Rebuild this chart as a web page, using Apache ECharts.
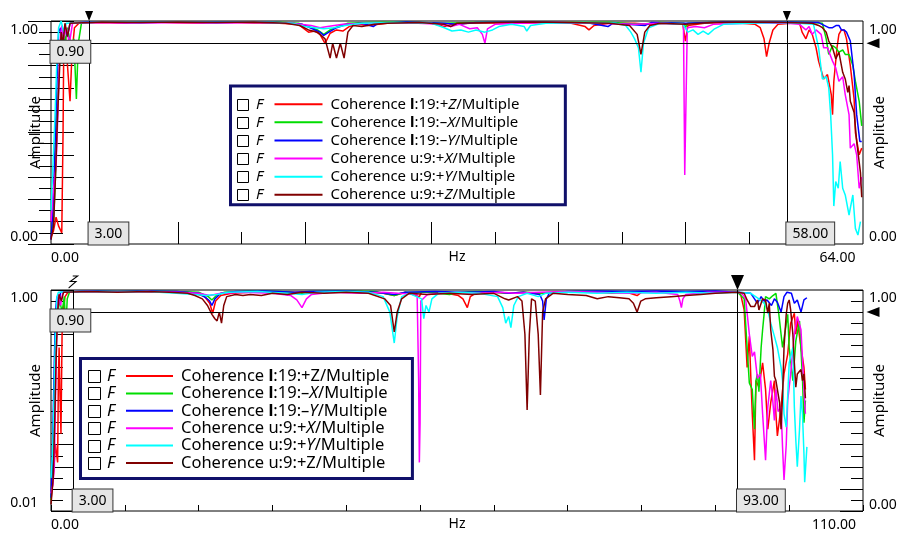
<!DOCTYPE html>
<html>
<head>
<meta charset="utf-8">
<script src="https://cdn.jsdelivr.net/npm/echarts@6/dist/echarts.min.js"></script>
</head>
<body style="margin: 0">
<div id="main" style="width: 898px; height: 535px"></div>
<script>
var names = [
    'Coherence l:19:+Z/Multiple',
    'Coherence l:19:\u2013X/Multiple',
    'Coherence l:19:\u2013Y/Multiple',
    'Coherence u:9:+X/Multiple',
    'Coherence u:9:+Y/Multiple',
    'Coherence u:9:+Z/Multiple'
];
var colors = ['#ff0000', '#00dd00', '#0000ff', '#ff00ff', '#00ffff', '#800000'];

// which axis letter is set in italics, per legend
var topItalic = [true, true, true, true, true, true];
var botItalic = [false, true, true, true, true, false];

var topRange = [0, 64];
var botRange = [0, 110];
var topCursors = [3, 58];
var botCursors = [3, 93];
var threshold = 0.9;

// ---- upper plot, [Hz, amplitude] ----
var topRed = [[0,0.03],[0.2,0.06],[0.4,0.12],[0.6,0.08],[0.85,0.05],[0.95,0.5],[1.0,0.85],[1.15,0.93],[1.3,0.8],[1.5,0.64],[1.65,0.85],[1.85,0.97],[2.2,0.99],
    [4,0.993],[6,0.99],[8,0.995],[10,0.992],[12,0.99],[14,0.994],[16,0.991],[18,0.99],[19.5,0.985],[20.3,0.95],[20.8,0.955],[21.2,0.94],[21.6,0.90],[22.0,0.945],[22.5,0.96],[23.0,0.955],[23.5,0.975],[24.2,0.985],[25,0.98],[26.5,0.99],[28,0.993],[30,0.99],[31,0.975],[31.6,0.985],[33,0.99],[35,0.992],[37,0.99],[39,0.993],[41,0.99],[42.1,0.975],[42.4,0.96],[42.8,0.98],[44,0.99],[46,0.99],[47,0.985],[48.5,0.99],[49.8,0.985],[50.0,0.91],[50.2,0.98],[51.5,0.99],[53,0.993],[54.5,0.99],[55.5,0.985],[55.9,0.97],[56.2,0.92],[56.4,0.84],[56.6,0.9],[56.9,0.96],[57.3,0.985],[58.3,0.99],
    [59.0,0.99],[59.2,0.95],[59.5,0.92],[59.75,0.96],[60.0,0.94],[60.3,0.88],[60.5,0.82],[60.9,0.74],[61.2,0.76],[61.5,0.67],[61.6,0.58],[61.7,0.73],[61.95,0.88],[62.1,0.94],[62.3,0.96],[62.5,0.96],[62.7,0.92],[63.0,0.80],[63.3,0.65],[63.4,0.50],[63.7,0.40],[63.9,0.43]];
var topGreen = [[0,0.05],[0.2,0.1],[0.35,0.3],[0.5,0.6],[0.7,0.85],[0.9,0.96],[1.1,0.9],[1.3,0.97],[1.6,0.88],[1.8,0.92],[2.0,0.65],[2.15,0.9],[2.4,0.99],
    [4,0.995],[6,0.993],[8,0.995],[10,0.994],[12,0.993],[14,0.995],[16,0.993],[18,0.994],[19.5,0.99],[20.3,0.975],[21.0,0.96],[21.5,0.94],[22.0,0.96],[22.6,0.975],[23.4,0.99],[25,0.993],[28,0.995],[31,0.99],[33,0.993],[36,0.995],[40,0.993],[44,0.994],[46.4,0.985],[48,0.993],[49.9,0.99],[50.0,0.97],[50.2,0.99],[53,0.995],[56,0.993],[58,0.995],[60,0.993],[60.8,0.99],
    [61.1,0.92],[61.3,0.85],[61.6,0.89],[61.85,0.88],[62.1,0.86],[62.4,0.87],[62.6,0.85],[62.9,0.85],[63.2,0.80],[63.4,0.73],[63.7,0.64],[63.9,0.53]];
var topBlue = [[0,0.02],[0.15,0.15],[0.3,0.4],[0.45,0.7],[0.6,0.95],[0.75,0.97],[0.9,0.85],[1.05,0.97],[1.3,0.93],[1.5,0.99],
    [3,0.995],[6,0.993],[9,0.995],[12,0.994],[15,0.995],[18,0.993],[19.8,0.985],[20.6,0.965],[21.2,0.95],[21.5,0.935],[21.9,0.95],[22.5,0.97],[23.3,0.985],[24.5,0.99],[25.4,0.975],[25.8,0.99],[28,0.995],[31,0.99],[32,0.985],[33.5,0.993],[37,0.995],[40,0.993],[42.5,0.99],[43.9,0.975],[44.3,0.99],[46.8,0.98],[47.3,0.993],[50,0.99],[53,0.995],[56,0.994],[58,0.995],[60.5,0.993],
    [61.3,0.97],[61.6,0.97],[61.9,0.98],[62.1,0.98],[62.3,0.96],[62.5,0.96],[62.7,0.95],[63.0,0.91],[63.3,0.76],[63.5,0.58],[63.75,0.46],[63.9,0.46]];
var topMagenta = [[0,0.1],[0.2,0.25],[0.4,0.35],[0.55,0.6],[0.7,0.9],[0.85,0.98],[1.0,0.92],[1.2,0.97],[1.45,0.9],[1.7,0.99],
    [4,0.993],[7,0.99],[10,0.993],[13,0.99],[16,0.993],[19,0.99],[20.5,0.98],[21.2,0.97],[21.8,0.975],[23,0.985],[25,0.99],[28,0.992],[30.8,0.985],[31.5,0.975],[32.2,0.985],[33.0,0.965],[33.6,0.97],[34.0,0.94],[34.2,0.90],[34.4,0.965],[35,0.985],[37,0.99],[40,0.993],[43,0.99],[46,0.985],[48,0.99],[49.85,0.985],[49.95,0.31],[50.05,0.31],[50.15,0.97],[50.8,0.975],[51.5,0.97],[52.2,0.985],[55,0.99],[58,0.99],[59.0,0.985],
    [59.2,0.975],[59.5,0.96],[59.75,0.975],[60.0,0.94],[60.3,0.96],[60.7,0.94],[60.9,0.88],[61.2,0.88],[61.6,0.82],[61.85,0.79],[62.1,0.73],[62.4,0.75],[62.6,0.67],[62.9,0.58],[63.0,0.43],[63.3,0.45],[63.5,0.40],[63.7,0.25],[63.9,0.30]];
var topCyan = [[0,0.15],[0.15,0.35],[0.3,0.55],[0.45,0.8],[0.6,0.97],[0.8,1.0],[1.0,0.95],[1.2,0.99],
    [4,0.995],[7,0.993],[10,0.995],[13,0.993],[16,0.995],[19,0.99],[20.0,0.975],[20.8,0.97],[21.5,0.965],[22.3,0.97],[23.2,0.98],[24.5,0.99],[27,0.993],[30,0.99],[31,0.97],[31.6,0.955],[32.3,0.96],[32.9,0.95],[33.5,0.96],[34.2,0.95],[34.8,0.96],[35.3,0.975],[36.3,0.985],[37.3,0.975],[37.5,0.955],[37.8,0.98],[39,0.99],[42,0.993],[44.5,0.99],[45.3,0.98],[45.7,0.95],[46.0,0.92],[46.3,0.88],[46.5,0.77],[46.7,0.9],[47.1,0.97],[48,0.99],[49.8,0.985],[50.2,0.95],[50.6,0.96],[51.0,0.94],[51.4,0.955],[51.8,0.94],[52.3,0.965],[53,0.985],[55,0.99],[58,0.993],[60.1,0.985],
    [60.5,0.88],[60.8,0.74],[61.1,0.75],[61.3,0.70],[61.45,0.58],[61.6,0.40],[61.7,0.17],[61.85,0.28],[62.05,0.25],[62.2,0.37],[62.4,0.25],[62.6,0.22],[62.9,0.13],[63.2,0.22],[63.4,0.07],[63.6,0.04],[63.8,0.10]];
var topDarkRed = [[0,0.02],[0.2,0.08],[0.35,0.3],[0.5,0.55],[0.65,0.75],[0.8,0.95],[0.95,0.9],[1.1,0.99],[1.3,0.93],[1.5,0.99],
    [4,0.995],[7,0.993],[10,0.995],[13,0.993],[16,0.995],[18.5,0.99],[19.6,0.98],[20.3,0.96],[21.0,0.95],[21.6,0.92],[22.0,0.834],[22.2,0.90],[22.5,0.834],[22.8,0.90],[23.1,0.834],[23.4,0.95],[23.8,0.98],[24.5,0.975],[25.5,0.985],[26.5,0.99],[29,0.993],[31,0.985],[31.5,0.975],[32,0.99],[35,0.993],[38,0.995],[41,0.993],[44,0.99],[45.6,0.98],[46.2,0.94],[46.5,0.85],[46.8,0.95],[47.2,0.98],[48,0.99],[50,0.985],[52,0.993],[55,0.995],[58,0.993],[60,0.99],
    [60.5,0.98],[60.8,0.97],[61.1,0.95],[61.3,0.91],[61.6,0.88],[61.85,0.83],[62.1,0.86],[62.4,0.77],[62.6,0.74],[62.8,0.68],[62.9,0.71],[63.0,0.64],[63.3,0.59],[63.5,0.46],[63.8,0.32],[63.9,0.21]];

// ---- lower plot, [Hz, amplitude] ----
var botRed = [[0,0.05],[0.3,0.15],[0.6,0.3],[0.9,0.22],[1.0,0.6],[1.1,0.74],[1.2,0.55],[1.35,0.35],[1.5,0.8],[1.7,0.92],[1.9,0.97],[2.3,0.99],
    [5,0.993],[8,0.99],[11,0.993],[14,0.99],[17,0.993],[19.5,0.985],[20.8,0.97],[21.5,0.94],[21.9,0.895],[22.3,0.95],[23,0.975],[24.5,0.985],[27,0.99],[30,0.993],[33,0.99],[36,0.993],[39,0.99],[42,0.993],[45,0.985],[46.5,0.975],[48,0.99],[49.9,0.97],[50.2,0.99],[53,0.99],[54.5,0.98],[55.2,0.975],[55.8,0.96],[56.4,0.92],[56.8,0.97],[57.5,0.985],[60,0.99],[62,0.985],[64,0.99],[66,0.985],[68,0.99],[71,0.993],[74,0.99],[76,0.985],[78,0.99],[79.4,0.975],[80,0.99],[83,0.993],[86,0.99],[89,0.993],[93,0.99],
    [93.4,0.985],[93.9,0.91],[94.3,0.65],[94.6,0.79],[94.8,0.61],[95.0,0.44],[95.3,0.23],[95.5,0.59],[95.9,0.56],[96.4,0.67],[96.8,0.55],[97.1,0.37],[97.5,0.49],[98.0,0.59],[98.2,0.44],[98.4,0.34],[98.9,0.47],[99.3,0.62],[99.8,0.71],[100.2,0.85],[100.7,0.895],[100.9,0.80],[101.1,0.864],[101.6,0.74],[102.0,0.65],[102.2,0.55]];
var botGreen = [[0,0.05],[0.3,0.3],[0.6,0.7],[0.9,0.9],[1.2,0.95],[1.5,0.9],[1.8,0.97],[2.0,0.82],[2.2,0.96],[2.5,0.99],
    [5,0.995],[9,0.993],[13,0.995],[17,0.993],[20,0.99],[21.3,0.97],[21.8,0.955],[22.4,0.975],[23.5,0.99],[27,0.995],[31,0.993],[34,0.985],[35,0.993],[40,0.995],[44,0.993],[46.5,0.975],[48,0.99],[51,0.99],[54,0.98],[55,0.99],[58,0.993],[62,0.985],[64,0.99],[67,0.985],[70,0.993],[74,0.995],[78,0.99],[82,0.993],[86,0.99],[90,0.993],[93,0.99],
    [93.9,0.96],[94.3,0.74],[94.6,0.58],[95.0,0.55],[95.3,0.37],[95.5,0.59],[95.7,0.62],[95.9,0.54],[96.2,0.74],[96.4,0.82],[96.6,0.89],[96.8,0.97],[97.3,0.96],[97.8,0.975],[98.2,0.985],[98.4,0.98],[98.6,0.89],[99.1,0.74],[99.3,0.78],[99.8,0.89],[100.0,0.74],[100.5,0.59],[100.9,0.77],[101.4,0.86],[101.8,0.60],[102.0,0.40],[102.2,0.50]];
var botBlue = [[0,0.06],[0.15,0.2],[0.4,0.6],[0.6,0.9],[0.8,0.97],[1.0,0.93],[1.3,0.99],
    [5,0.995],[9,0.993],[13,0.995],[17,0.993],[20,0.985],[21.0,0.965],[21.5,0.95],[21.8,0.93],[22.2,0.96],[23,0.985],[25,0.993],[29,0.995],[33,0.99],[35,0.993],[40,0.995],[44,0.99],[46.5,0.98],[48,0.99],[52,0.993],[56,0.99],[60,0.993],[62,0.985],[64,0.99],[66.2,0.98],[66.6,0.95],[66.8,0.865],[67.1,0.96],[67.5,0.985],[70,0.993],[74,0.995],[78,0.993],[82,0.995],[86,0.993],[90,0.995],[93,0.99],
    [94.8,0.985],[95.3,0.96],[95.7,0.94],[96.2,0.97],[96.6,0.95],[97.0,0.955],[97.6,0.93],[98.0,0.96],[98.4,0.945],[98.9,0.90],[99.3,0.97],[99.7,0.99],[100.3,0.985],[100.7,0.94],[101.1,0.955],[101.6,0.90],[102.0,0.955],[102.4,0.965]];
var botMagenta = [[0,0.08],[0.25,0.12],[0.45,0.2],[0.6,0.5],[0.8,0.85],[1.0,0.98],[1.3,0.93],[1.6,0.99],
    [5,0.993],[9,0.99],[13,0.993],[17,0.99],[20,0.985],[21.5,0.975],[23,0.985],[26,0.99],[30,0.985],[32.5,0.975],[33.3,0.955],[34.0,0.92],[34.6,0.96],[35.3,0.98],[38,0.99],[42,0.985],[45,0.99],[47,0.985],[49.6,0.98],[49.8,0.6],[49.9,0.22],[50.0,0.4],[50.1,0.95],[51,0.98],[55,0.99],[58,0.985],[61,0.99],[63,0.985],[66,0.99],[70,0.993],[74,0.99],[78,0.985],[82,0.99],[84.9,0.98],[85.2,0.95],[85.4,0.92],[85.6,0.96],[86,0.98],[89,0.99],[93,0.99],
    [93.6,0.985],[94.1,0.96],[94.6,0.80],[95.0,0.70],[95.3,0.72],[95.7,0.60],[96.1,0.62],[96.4,0.44],[96.8,0.23],[97.1,0.47],[97.5,0.59],[97.7,0.53],[98.0,0.41],[98.2,0.55],[98.5,0.45],[98.9,0.47],[99.1,0.29],[99.3,0.14],[99.6,0.30],[99.8,0.50],[100.2,0.62],[100.7,0.80],[101.1,0.88],[101.6,0.82],[102.0,0.55],[102.2,0.44]];
var botCyan = [[0,0.15],[0.2,0.25],[0.4,0.5],[0.6,0.8],[0.8,0.97],[1.0,0.99],
    [5,0.993],[9,0.99],[13,0.993],[17,0.985],[19.5,0.98],[21,0.975],[22.5,0.98],[24,0.99],[28,0.993],[32,0.985],[34,0.98],[36,0.99],[40,0.993],[43,0.99],[45.0,0.97],[45.9,0.9],[46.5,0.76],[46.9,0.88],[47.5,0.97],[48.5,0.985],[50.2,0.96],[50.5,0.87],[50.8,0.93],[51.2,0.90],[51.6,0.96],[52.5,0.985],[55,0.99],[58,0.985],[60.5,0.97],[61.2,0.92],[61.6,0.85],[62.0,0.88],[62.3,0.83],[62.7,0.93],[63.3,0.97],[64.5,0.985],[66,0.97],[67,0.985],[70,0.99],[74,0.985],[78,0.99],[82,0.985],[86,0.99],[90,0.985],[93,0.99],
    [94.8,0.985],[95.9,0.96],[96.6,0.94],[97.1,0.91],[97.5,0.85],[98.0,0.79],[98.4,0.74],[98.9,0.65],[99.1,0.59],[99.3,0.44],[99.6,0.38],[99.8,0.52],[100.0,0.67],[100.5,0.74],[100.7,0.47],[100.9,0.32],[101.1,0.20],[101.4,0.37],[101.6,0.52],[101.8,0.44],[102.0,0.26],[102.1,0.13],[102.4,0.29]];
var botDarkRed = [[0,0.03],[0.3,0.15],[0.5,0.4],[0.7,0.7],[0.9,0.9],[1.1,0.98],[1.4,0.95],[1.7,0.99],
    [5,0.993],[9,0.99],[13,0.993],[16,0.99],[18.5,0.985],[19.5,0.975],[20.5,0.96],[21.2,0.93],[21.8,0.89],[22.2,0.87],[22.5,0.86],[22.8,0.9],[23.1,0.85],[23.4,0.93],[23.8,0.97],[25,0.98],[26,0.975],[27,0.98],[28.5,0.975],[30,0.985],[32,0.98],[34,0.99],[37,0.985],[40,0.99],[43,0.985],[45.2,0.96],[46.0,0.93],[46.5,0.81],[46.9,0.9],[47.5,0.96],[48.5,0.985],[51,0.98],[54,0.985],[57,0.98],[60,0.985],[61.5,0.96],[62.0,0.955],[63.2,0.97],[63.8,0.95],[64.2,0.80],[64.5,0.457],[64.8,0.8],[65.1,0.96],[65.6,0.95],[66.0,0.8],[66.3,0.525],[66.6,0.9],[67.0,0.96],[68,0.985],[70,0.98],[72.5,0.975],[74,0.96],[75.5,0.97],[77,0.965],[78.3,0.96],[78.9,0.94],[79.4,0.90],[79.9,0.95],[80.5,0.96],[82,0.965],[84,0.97],[86,0.975],[88,0.98],[90,0.985],[93,0.99],
    [93.9,0.985],[94.3,0.955],[94.8,0.925],[95.3,0.925],[95.7,0.955],[95.9,0.91],[96.4,0.96],[96.8,0.955],[97.1,0.895],[97.3,0.94],[97.5,0.82],[97.8,0.73],[98.0,0.61],[98.2,0.59],[98.4,0.55],[98.7,0.49],[98.9,0.37],[99.1,0.52],[99.3,0.74],[99.6,0.89],[99.8,0.94],[100.0,0.955],[100.2,0.91],[100.5,0.80],[100.7,0.67],[100.9,0.56],[101.1,0.62],[101.6,0.64],[101.8,0.59],[102.0,0.62],[102.2,0.51]];

var topData = [topRed, topGreen, topBlue, topMagenta, topCyan, topDarkRed];
var botData = [botRed, botGreen, botBlue, botMagenta, botCyan, botDarkRed];

var FONT = 'Noto Sans';
var BOX = { color: '#000', fontSize: 14, fontFamily: FONT, backgroundColor: '#e6e6e6',
            borderColor: '#333', borderWidth: 1, padding: [3, 6, 2, 6], lineHeight: 17 };

function boxLabel(text, pos, offset) {
    return Object.assign({ show: true, position: pos, distance: 0, offset: offset || [0, 0], formatter: text }, BOX);
}

function markers(range, cursors, big) {
    var pts = [
        { coord: [range[0], threshold], symbol: 'rect', symbolSize: 1, itemStyle: { color: 'rgba(0,0,0,0)' },
          label: boxLabel(threshold.toFixed(2), 'insideTopLeft', [0, -2]) },
        { coord: [range[1], threshold], symbol: 'triangle', symbolRotate: 90, symbolSize: [10, 13], symbolOffset: [10, 0],
          itemStyle: { color: '#000' }, label: { show: false } }
    ];
    cursors.forEach(function (c, k) {
        pts.push({ coord: [c, 0], symbol: 'rect', symbolSize: 1, itemStyle: { color: 'rgba(0,0,0,0)' },
                   label: boxLabel(c.toFixed(2), 'insideBottomLeft') });
        if (big && k === 0) {
            pts.push({ coord: [c, 1], symbol: 'path://M5,0 L11,0 L2,6 L9,6 L0,13', symbolSize: [9, 12], symbolOffset: [0, -8],
                       itemStyle: { color: 'rgba(0,0,0,0)', borderColor: '#000', borderWidth: 1 }, label: { show: false } });
        } else {
            var s = big ? [13, 15] : [8, 10];
            pts.push({ coord: [c, 1], symbol: 'triangle', symbolRotate: 180, symbolSize: s, symbolOffset: [0, -s[1] / 2],
                       itemStyle: { color: '#000' }, label: { show: false } });
        }
    });
    return {
        markLine: {
            silent: true, animation: false, symbol: ['none', 'none'], label: { show: false },
            lineStyle: { color: '#000', width: 1, type: 'solid' }, emphasis: { disabled: true },
            data: cursors.map(function (c) { return { xAxis: c }; }).concat([{ yAxis: threshold }])
        },
        markPoint: { silent: true, animation: false, data: pts }
    };
}

function makeSeries(datasets, xIdx, yIdx, range, cursors, big) {
    return datasets.map(function (d, i) {
        var s = {
            name: names[i], type: 'line', xAxisIndex: xIdx, yAxisIndex: yIdx, data: d,
            symbol: 'none', showSymbol: false, animation: false, silent: true,
            lineStyle: { width: 1.5, color: colors[i] }, itemStyle: { color: colors[i] }
        };
        if (i === datasets.length - 1) Object.assign(s, markers(range, cursors, big));
        return s;
    });
}

function yAxisOf(grid, side, minText, topShift, botShift) {
    return {
        type: 'value', gridIndex: grid, position: side, min: 0, max: 1, interval: 0.1,
        axisLine: { show: false }, splitLine: { show: false },
        axisTick: { show: true, inside: true, length: 23, lineStyle: { color: '#000' } },
        minorTick: { show: true, splitNumber: 2, length: 12, lineStyle: { color: '#000' } },
        axisLabel: {
            show: true, customValues: [0, 1], margin: side === 'left' ? 13 : 6,
            formatter: function (v) { return v >= 1 ? '{t|1.00}' : '{b|' + minText + '}'; },
            rich: {
                t: { color: '#000', fontSize: 14, fontFamily: FONT, padding: [topShift * 2, 0, 0, 0] },
                b: { color: '#000', fontSize: 14, fontFamily: FONT, padding: [0, 0, botShift * 2, 0] }
            }
        },
        name: 'Amplitude', nameLocation: 'middle', nameRotate: 90, nameGap: side === 'left' ? 8 : 9,
        nameMoveOverlap: false,
        nameTextStyle: { color: '#000', fontSize: 15, fontFamily: FONT }
    };
}

function xLabel(range, padL, padR) {
    return {
        show: true, customValues: range, margin: 7,
        formatter: function (v) { return v === range[0] ? '{l|' + v.toFixed(2) + '}' : '{r|' + v.toFixed(2) + '}'; },
        rich: {
            l: { color: '#000', fontSize: 14, fontFamily: FONT, padding: [0, 0, 0, padL] },
            r: { color: '#000', fontSize: 14, fontFamily: FONT, padding: [0, padR, 0, 0] }
        }
    };
}

function legendOf(g, italic) {
    var st = { color: '#000', fontSize: g.font, fontFamily: FONT, lineHeight: g.rowH };
    return {
        orient: 'vertical', left: g.left, top: g.top, padding: g.pad, itemGap: 0,
        icon: 'rect', itemWidth: g.itemW, itemHeight: 2, selectedMode: false,
        borderColor: '#10106a', borderWidth: 3, backgroundColor: '#fff', borderRadius: 0,
        data: names,
        textStyle: {
            color: '#000', fontSize: g.font, fontFamily: FONT, lineHeight: g.rowH,
            padding: [0, 0, 0, 3],
            rich: {
                n: st,
                b: Object.assign({}, st, { fontWeight: 'bold' }),
                i: Object.assign({}, st, { fontStyle: 'italic' })
            }
        },
        formatter: function (name) {
            var k = names.indexOf(name);
            var m = name.match(/^Coherence (l|u)(:\d+:.)([XYZ])(\/Multiple)$/);
            return '{n|Coherence }{' + (m[1] === 'l' ? 'b' : 'n') + '|' + m[1] + '}{n|' + m[2] + '}{' +
                (italic[k] ? 'i' : 'n') + '|' + m[3] + '}{n|' + m[4] + '}';
        }
    };
}

// legend box geometry
var legTop = { top: 86, left: 230.5, pad: [9.2, 46, 1, 44], itemW: 48, font: 15, rowH: 18.1, boxX: 237.5, boxS: 11, fx: 256 };
var legBot = { top: 358.5, left: 80.5, pad: [8.8, 23, 6.8, 45.5], itemW: 47, font: 16.5, rowH: 17.4, boxX: 88.5, boxS: 12, fx: 107 };

function legendMarks(g) {
    var els = [];
    names.forEach(function (n, i) {
        var cy = g.top + g.pad[0] + g.rowH * (i + 0.5);
        els.push({ type: 'rect', z: 100, shape: { x: g.boxX, y: Math.round(cy - g.boxS / 2) + 0.5, width: g.boxS, height: g.boxS },
                   style: { fill: '#fff', stroke: '#000', lineWidth: 1 } });
        els.push({ type: 'text', z: 100, x: g.fx, y: cy,
                   style: { text: 'F', fontSize: g.font, fontStyle: 'italic', fontFamily: FONT, fill: '#000', verticalAlign: 'middle' } });
    });
    return els;
}

var chart = echarts.init(document.getElementById('main'));
var gridStyle = { show: true, borderColor: '#000', borderWidth: 1, backgroundColor: '#fff', containLabel: false, outerBoundsMode: 'none' };

var option = {
    animation: false,
    grid: [
        Object.assign({ left: 51, right: 35, top: 21, height: 223 }, gridStyle),
        Object.assign({ left: 51, right: 35, top: 290, height: 221 }, gridStyle)
    ],
    xAxis: [
        {
            type: 'value', gridIndex: 0, position: 'bottom', min: topRange[0], max: topRange[1], interval: 10,
            axisLine: { show: false }, splitLine: { show: false },
            axisTick: { show: true, inside: true, length: 22, customValues: [10, 20, 30, 40, 50, 60], lineStyle: { color: '#000' } },
            axisLabel: xLabel(topRange, 28, 51),
            name: 'Hz', nameLocation: 'middle', nameGap: 6, nameMoveOverlap: false,
            nameTextStyle: { color: '#000', fontSize: 14, fontFamily: FONT }
        },
        {
            type: 'value', gridIndex: 0, position: 'bottom', min: topRange[0], max: topRange[1],
            axisLine: { show: false }, splitLine: { show: false }, axisLabel: { show: false },
            axisTick: { show: true, inside: true, length: 12, customValues: [5, 15, 25, 35, 45, 55], lineStyle: { color: '#000' } }
        },
        {
            type: 'value', gridIndex: 1, position: 'bottom', min: botRange[0], max: botRange[1], interval: 10,
            axisLine: { show: false }, splitLine: { show: false },
            axisTick: { show: true, inside: true, length: 6, lineStyle: { color: '#000' } },
            axisLabel: xLabel(botRange, 28, 58),
            name: 'Hz', nameLocation: 'middle', nameGap: 6, nameMoveOverlap: false,
            nameTextStyle: { color: '#000', fontSize: 14, fontFamily: FONT }
        }
    ],
    yAxis: [
        yAxisOf(0, 'left', '0.00', 9, 7),
        yAxisOf(0, 'right', '0.00', 9, 7),
        yAxisOf(1, 'left', '0.01', 8.5, 8),
        yAxisOf(1, 'right', '0.00', 8.5, 6)
    ],
    legend: [legendOf(legTop, topItalic), legendOf(legBot, botItalic)],
    graphic: legendMarks(legTop).concat(legendMarks(legBot)),
    series: makeSeries(topData, 0, 0, topRange, topCursors, false)
        .concat(makeSeries(botData, 2, 2, botRange, botCursors, true))
};
chart.setOption(option);
</script>
</body>
</html>
